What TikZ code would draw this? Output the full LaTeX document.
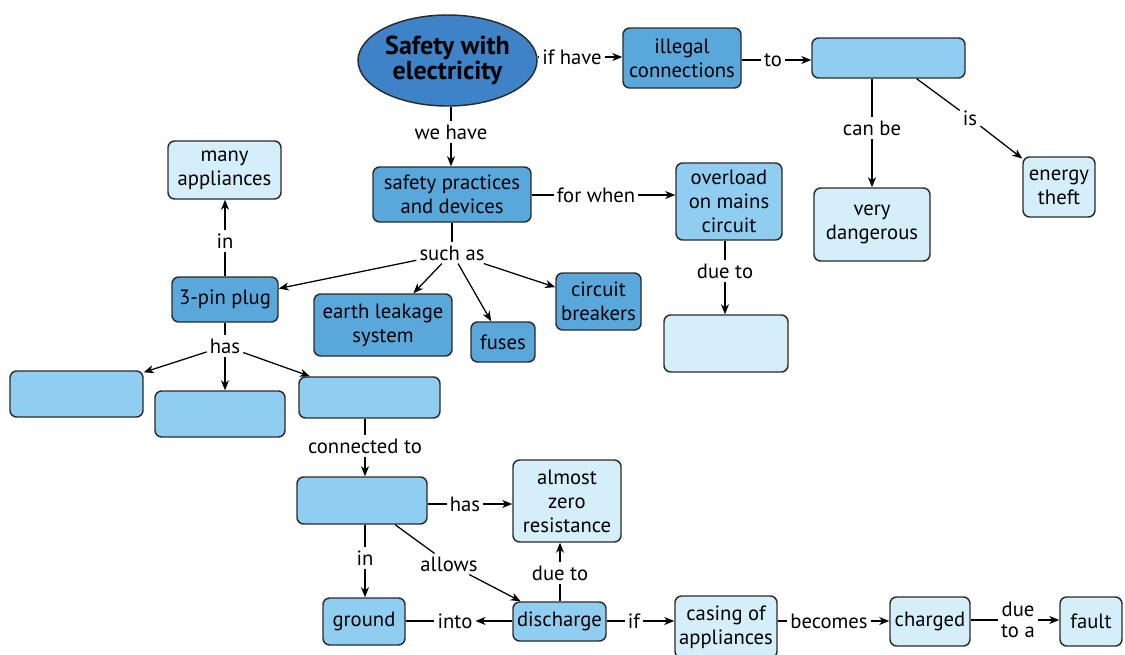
\documentclass[tikz,border=0pt]{standalone}
\usepackage{fontspec}
\setmainfont{PT Sans}
\usetikzlibrary{arrows.meta,shapes.geometric}
\definecolor{cDark}{HTML}{3E82C7}
\definecolor{cMid}{HTML}{5AA7DC}
\definecolor{cLight}{HTML}{8FCDF1}
\definecolor{cPale}{HTML}{D4EEFA}
\definecolor{cEdge}{HTML}{2B2B2B}
\tikzset{
  concept/.style={draw=cEdge, line width=1.1pt, rounded corners=5pt, align=center,
    inner sep=0pt, font=\fontsize{15.5}{18}\selectfont},
  sz/.style 2 args={minimum width=#1*0.75pt, minimum height=#2*0.75pt},
  mid/.style={concept, fill=cMid},
  light/.style={concept, fill=cLight},
  pale/.style={concept, fill=cPale},
  lbl/.style={inner sep=2.2pt, align=center, font=\fontsize{15.5}{16}\selectfont},
  conn/.style={draw=black, line width=0.95pt},
  arr/.style={conn, -{Stealth[length=7.5pt,width=6pt,inset=2.2pt]}},
}
\begin{document}
\begin{tikzpicture}[x=0.75pt,y=-0.75pt]
\useasboundingbox (0,0) rectangle (1125,654);
\begin{scope}
\clip (0,0) rectangle (1125,654);

% concepts
\node[ellipse, draw=cEdge, line width=1.1pt, fill=cDark, minimum width=179*0.75pt,
  minimum height=91*0.75pt, inner sep=0pt, align=center,
  font=\fontsize{19.5}{19}\selectfont\bfseries] (title) at (447.5,60.5) {Safety with\\electricity};
\node[mid, sz={118}{60}] (illegal) at (682,58) {illegal\\connections};
\node[light, sz={153}{40}] (theft) at (888.5,58) {};
\node[pale, sz={72}{60}] (energy) at (1059,187) {energy\\theft};
\node[pale, sz={116}{73}] (danger) at (872,224.5) {very\\dangerous};
\node[mid, sz={158}{55}] (safety) at (452,194.5) {safety practices\\and devices};
\node[light, sz={106}{77}] (overload) at (729,201.5) {overload\\on mains\\circuit};
\node[pale, sz={124}{57}] (cause) at (726,343.5) {};
\node[mid, sz={106}{45}] (plug) at (225,299.5) {3-pin plug};
\node[pale, sz={113}{58}] (many) at (224.5,170) {many\\appliances};
\node[mid, sz={138}{62}] (earth) at (383,325) {earth leakage\\system};
\node[mid, sz={64}{40}] (fuses) at (503,342) {fuses};
\node[mid, sz={85}{57}] (breakers) at (598.5,301.5) {circuit\\breakers};
\node[light, sz={133}{46}] (pinA) at (76.5,394) {};
\node[light, sz={130}{46}] (pinB) at (220,414) {};
\node[light, sz={141}{41}] (pinC) at (369.5,397.5) {};
\node[light, sz={130}{47}] (wire) at (362,500.5) {};
\node[pale, sz={108}{82}] (zero) at (567,501) {almost\\zero\\resistance};
\node[light, sz={82}{47}] (ground) at (364,621.5) {ground};
\node[light, sz={93}{39}] (discharge) at (559.5,621.5) {discharge};
\node[pale, sz={102}{62}] (casing) at (726,627) {casing of\\appliances};
\node[pale, sz={80}{49}] (charged) at (930,621.5) {charged};
\node[pale, sz={62}{49}] (fault) at (1091,621.5) {fault};

% linking phrases
\node[lbl] (ifhave) at (572,57) {if have};
\node[lbl] (to) at (773,60) {to};
\node[lbl] (canbe) at (872,128) {can be};
\node[lbl] (is) at (970,118) {is};
\node[lbl] (wehave) at (451,132) {we have};
\node[lbl] (forwhen) at (596,195) {for when};
\node[lbl] (suchas) at (452,253) {such as};
\node[lbl] (dueA) at (725,271) {due to};
\node[lbl] (inA) at (225,241) {in};
\node[lbl] (hasA) at (225,346) {has};
\node[lbl] (connto) at (365,446) {connected to};
\node[lbl] (hasB) at (465,504) {has};
\node[lbl] (inB) at (365,558) {in};
\node[lbl] (allows) at (449,564) {allows};
\node[lbl] (dueB) at (560,573) {due to};
\node[lbl] (into) at (455,621) {into};
\node[lbl] (ifB) at (634,621) {if};
\node[lbl] (becomes) at (829,621) {becomes};
\node[lbl] (dueC) at (1018,620) {due\\to a};

% connectors
\draw[conn] (title.east |- ifhave) -- (ifhave);
\draw[arr] (ifhave) -- (ifhave -| illegal.west);
\draw[conn] (illegal.east |- to) -- (to);
\draw[arr] (to) -- (to -| theft.west);
\draw[conn] (canbe |- theft.south) -- (canbe);
\draw[arr] (canbe) -- (danger);
\draw[conn] (theft) -- (is);
\draw[arr] (is) -- (energy);
\draw[conn] (wehave |- title.south) -- (wehave);
\draw[arr] (wehave) -- (wehave |- safety.north);
\draw[conn] (safety.east |- forwhen) -- (forwhen);
\draw[arr] (forwhen) -- (forwhen -| overload.west);
\draw[conn] (dueA |- overload.south) -- (dueA);
\draw[arr] (dueA) -- (dueA |- cause.north);
\draw[conn] (suchas |- safety.south) -- (suchas);
\draw[arr] (suchas) -- (plug);
\draw[arr] (suchas) -- (earth);
\draw[arr] (suchas) -- (fuses);
\draw[arr] (suchas) -- (breakers);
\draw[conn] (inA |- plug.north) -- (inA);
\draw[arr] (inA) -- (inA |- many.south);
\draw[conn] (hasA |- plug.south) -- (hasA);
\draw[arr] (hasA) -- (pinA);
\draw[arr] (hasA) -- (hasA |- pinB.north);
\draw[arr] (hasA) -- (pinC);
\draw[conn] (connto |- pinC.south) -- (connto);
\draw[arr] (connto) -- (connto |- wire.north);
\draw[conn] (wire.east |- hasB) -- (hasB);
\draw[arr] (hasB) -- (hasB -| zero.west);
\draw[conn] (inB |- wire.south) -- (inB);
\draw[arr] (inB) -- (inB |- ground.north);
\draw[conn] (wire) -- (allows);
\draw[arr] (allows) -- (discharge);
\draw[conn] (dueB |- discharge.north) -- (dueB);
\draw[arr] (dueB) -- (dueB |- zero.south);
\draw[conn] (ground.east |- into) -- (into);
\draw[arr] (discharge.west |- into) -- (into);
\draw[conn] (discharge.east |- ifB) -- (ifB);
\draw[arr] (ifB) -- (ifB -| casing.west);
\draw[conn] (casing.east |- becomes) -- (becomes);
\draw[arr] (becomes) -- (becomes -| charged.west);
\draw[conn] (charged.east |- dueC) -- (dueC);
\draw[arr] (dueC) -- (dueC -| fault.west);
\end{scope}
\end{tikzpicture}
\end{document}
